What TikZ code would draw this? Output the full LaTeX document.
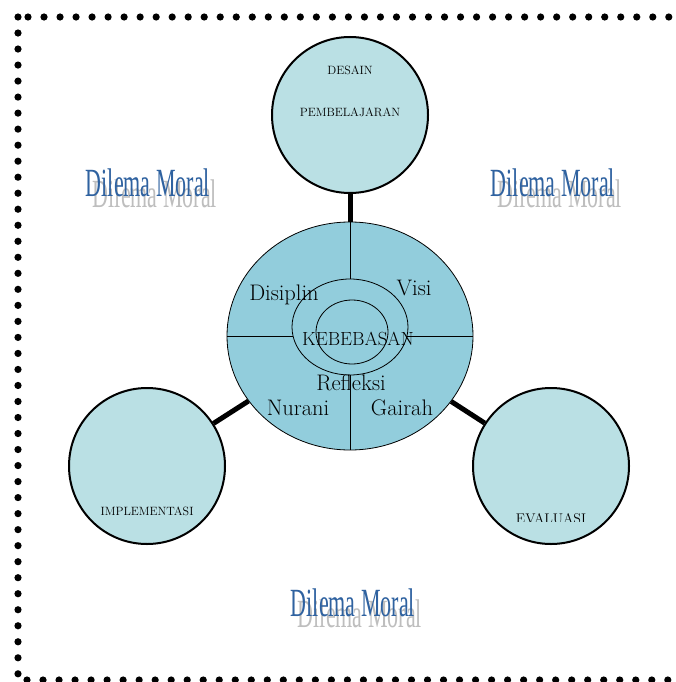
\documentclass[tikz,border=0pt]{standalone}
\usepackage{xcolor}
\usepackage{tikz}
\usetikzlibrary{shapes.geometric}
\usepackage{fontspec}
\newfontfamily\wordart{Liberation Serif}

\definecolor{bulat}{HTML}{BAE0E4}
\definecolor{inti}{HTML}{92CDDC}
\definecolor{judul}{HTML}{2F62A0}
\definecolor{bayang}{HTML}{BEBEBE}

\begin{document}
\begin{tikzpicture}[x=1pt, y=-1pt,
  tahap/.style={circle, draw, line width=2pt, fill=bulat, minimum size=156pt, inner sep=0pt},
  cincin/.style={ellipse, draw, line width=0.8pt, fill=inti, inner sep=0pt},
  kecil/.style={font=\fontsize{12}{14}\selectfont, inner sep=0pt},
  isi/.style={font=\fontsize{22.5}{25}\selectfont, inner sep=0pt},
  dilema/.style={font=\wordart\fontsize{40}{44}\selectfont, text=judul, inner sep=0pt, xscale=0.55},
  bayangan/.style={dilema, text=bayang},
  link/.style={line width=5pt}
]
\useasboundingbox (0,0) rectangle (675,682);

% border of dots
\fill (18,17) circle (3.6);
\foreach \i in {0,...,40} \fill (28+16.02*\i,17) circle (3.6);
\foreach \i in {1,...,41} \fill (18,17+16.02*\i) circle (3.6);
\foreach \i in {0,...,40} \fill (27+16.02*\i,680) circle (3.6);

% word art
\node[bayangan] (sL) at (155,194) {Dilema Moral};
\node[dilema]   (dL) at (148,183) {Dilema Moral};
\node[bayangan] (sR) at (560,194) {Dilema Moral};
\node[dilema]   (dR) at (553,183) {Dilema Moral};
\node[bayangan] (sB) at (360,614) {Dilema Moral};
\node[dilema]   (dB) at (353,603) {Dilema Moral};

% centre
\node[cincin, minimum width=246pt, minimum height=228pt] (pusat) at (350,336) {};
\draw[line width=0.8pt] (pusat.north) -- (pusat.south);
\draw[line width=0.8pt] (pusat.west) -- (pusat.east);
\node[cincin, minimum width=116pt, minimum height=96pt] (luar) at (350,327) {};
\node[cincin, minimum width=72pt, minimum height=64pt] (dalam) at (352,332) {};

\node[isi] (disiplin) at (284,295) {Disiplin};
\node[isi] (visi)     at (414,288) {Visi};
\node[isi, font=\fontsize{19}{22}\selectfont] (bebas) at (358,339) {KEBEBASAN};
\node[isi] (refleksi) at (351,383) {Refleksi};
\node[isi] (nurani)   at (298,408) {Nurani};
\node[isi] (gairah)   at (402,408) {Gairah};

% stages
\node[tahap] (desain) at (350,115) {};
\node[tahap] (impl)   at (147,466) {};
\node[tahap] (eval)   at (551,466) {};

\node[kecil] (tDesain) at (350,70)  {DESAIN};
\node[kecil] (tPemb)   at (350,112) {PEMBELAJARAN};
\node[kecil] (tImpl)   at (147,511) {IMPLEMENTASI};
\begin{scope}
\clip (480,500) rectangle (625,521.5);
\node[kecil, font=\fontsize{14}{16}\selectfont] (tEval) at (551,519) {EVALUASI};
\end{scope}

\draw[link] (desain) -- (pusat);
\draw[link] (impl) -- (pusat);
\draw[link] (eval) -- (pusat);
\end{tikzpicture}
\end{document}
